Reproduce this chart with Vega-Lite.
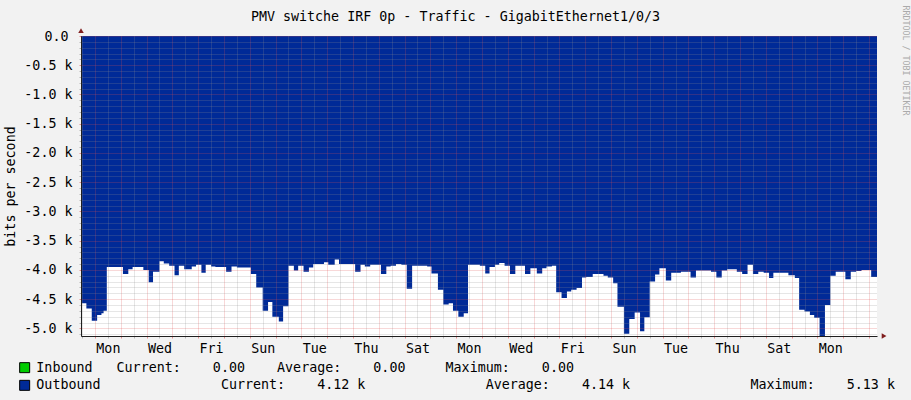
{
  "$schema": "https://vega.github.io/schema/vega-lite/v6.json",
  "width": 796,
  "height": 300,
  "autosize": {"type": "none"},
  "padding": {"left": 81, "top": 36, "right": 34, "bottom": 64},
  "background": "#f2f2f2",
  "config": {
    "view": {"stroke": null, "fill": "#ffffff"},
    "font": "DejaVu Sans Mono",
    "axis": {"labelFont": "DejaVu Sans Mono", "labelFontSize": 13.33, "labelColor": "#000000", "titleFont": "DejaVu Sans Mono", "titleFontSize": 13.33, "titleFontWeight": "normal", "titleColor": "#000000"}
  },
  "title": {"text": "PMV switche IRF 0p - Traffic - GigabitEthernet1/0/3", "font": "DejaVu Sans Mono", "fontSize": 13.33, "fontWeight": "normal", "color": "#000000", "anchor": "middle", "dx": -23.5, "dy": 46, "offset": 17, "baseline": "alphabetic"},
  "datasets": {
    "traffic": [
      {"time": "2023-12-31T11:00", "bps": -4570, "series": "Outbound"},
      {"time": "2023-12-31T16:00", "bps": -4660, "series": "Outbound"},
      {"time": "2023-12-31T21:00", "bps": -4870, "series": "Outbound"},
      {"time": "2024-01-01T02:00", "bps": -4770, "series": "Outbound"},
      {"time": "2024-01-01T06:00", "bps": -4740, "series": "Outbound"},
      {"time": "2024-01-01T08:00", "bps": -4700, "series": "Outbound"},
      {"time": "2024-01-01T11:00", "bps": -3950, "series": "Outbound"},
      {"time": "2024-01-02T02:00", "bps": -4070, "series": "Outbound"},
      {"time": "2024-01-02T07:00", "bps": -3990, "series": "Outbound"},
      {"time": "2024-01-02T11:00", "bps": -3950, "series": "Outbound"},
      {"time": "2024-01-02T21:00", "bps": -4000, "series": "Outbound"},
      {"time": "2024-01-03T02:00", "bps": -4210, "series": "Outbound"},
      {"time": "2024-01-03T06:00", "bps": -4030, "series": "Outbound"},
      {"time": "2024-01-03T12:00", "bps": -3850, "series": "Outbound"},
      {"time": "2024-01-03T16:00", "bps": -3890, "series": "Outbound"},
      {"time": "2024-01-03T21:00", "bps": -3930, "series": "Outbound"},
      {"time": "2024-01-04T02:00", "bps": -4090, "series": "Outbound"},
      {"time": "2024-01-04T06:00", "bps": -3930, "series": "Outbound"},
      {"time": "2024-01-04T11:00", "bps": -3990, "series": "Outbound"},
      {"time": "2024-01-04T18:00", "bps": -3940, "series": "Outbound"},
      {"time": "2024-01-04T22:00", "bps": -3910, "series": "Outbound"},
      {"time": "2024-01-05T03:00", "bps": -4050, "series": "Outbound"},
      {"time": "2024-01-05T07:00", "bps": -3910, "series": "Outbound"},
      {"time": "2024-01-05T12:00", "bps": -3940, "series": "Outbound"},
      {"time": "2024-01-05T16:00", "bps": -3950, "series": "Outbound"},
      {"time": "2024-01-06T02:00", "bps": -4030, "series": "Outbound"},
      {"time": "2024-01-06T07:00", "bps": -3940, "series": "Outbound"},
      {"time": "2024-01-06T12:00", "bps": -3960, "series": "Outbound"},
      {"time": "2024-01-07T01:00", "bps": -4070, "series": "Outbound"},
      {"time": "2024-01-07T06:00", "bps": -4300, "series": "Outbound"},
      {"time": "2024-01-07T12:00", "bps": -4700, "series": "Outbound"},
      {"time": "2024-01-07T17:00", "bps": -4550, "series": "Outbound"},
      {"time": "2024-01-07T21:00", "bps": -4800, "series": "Outbound"},
      {"time": "2024-01-08T03:00", "bps": -4880, "series": "Outbound"},
      {"time": "2024-01-08T07:00", "bps": -4620, "series": "Outbound"},
      {"time": "2024-01-08T12:00", "bps": -3930, "series": "Outbound"},
      {"time": "2024-01-08T17:00", "bps": -4010, "series": "Outbound"},
      {"time": "2024-01-08T21:00", "bps": -3930, "series": "Outbound"},
      {"time": "2024-01-09T02:00", "bps": -4030, "series": "Outbound"},
      {"time": "2024-01-09T07:00", "bps": -3960, "series": "Outbound"},
      {"time": "2024-01-09T11:00", "bps": -3900, "series": "Outbound"},
      {"time": "2024-01-09T21:00", "bps": -3870, "series": "Outbound"},
      {"time": "2024-01-10T01:00", "bps": -3910, "series": "Outbound"},
      {"time": "2024-01-10T07:00", "bps": -3820, "series": "Outbound"},
      {"time": "2024-01-10T11:00", "bps": -3900, "series": "Outbound"},
      {"time": "2024-01-11T02:00", "bps": -4030, "series": "Outbound"},
      {"time": "2024-01-11T07:00", "bps": -3910, "series": "Outbound"},
      {"time": "2024-01-11T11:00", "bps": -3940, "series": "Outbound"},
      {"time": "2024-01-11T16:00", "bps": -3910, "series": "Outbound"},
      {"time": "2024-01-12T02:00", "bps": -4070, "series": "Outbound"},
      {"time": "2024-01-12T07:00", "bps": -3940, "series": "Outbound"},
      {"time": "2024-01-12T11:00", "bps": -3930, "series": "Outbound"},
      {"time": "2024-01-12T16:00", "bps": -3900, "series": "Outbound"},
      {"time": "2024-01-12T21:00", "bps": -3910, "series": "Outbound"},
      {"time": "2024-01-13T02:00", "bps": -4320, "series": "Outbound"},
      {"time": "2024-01-13T07:00", "bps": -3930, "series": "Outbound"},
      {"time": "2024-01-13T21:00", "bps": -3940, "series": "Outbound"},
      {"time": "2024-01-14T01:00", "bps": -4060, "series": "Outbound"},
      {"time": "2024-01-14T07:00", "bps": -4340, "series": "Outbound"},
      {"time": "2024-01-14T12:00", "bps": -4590, "series": "Outbound"},
      {"time": "2024-01-14T17:00", "bps": -4570, "series": "Outbound"},
      {"time": "2024-01-14T21:00", "bps": -4700, "series": "Outbound"},
      {"time": "2024-01-15T02:00", "bps": -4800, "series": "Outbound"},
      {"time": "2024-01-15T07:00", "bps": -4740, "series": "Outbound"},
      {"time": "2024-01-15T11:00", "bps": -3910, "series": "Outbound"},
      {"time": "2024-01-15T22:00", "bps": -3930, "series": "Outbound"},
      {"time": "2024-01-16T03:00", "bps": -4060, "series": "Outbound"},
      {"time": "2024-01-16T07:00", "bps": -3950, "series": "Outbound"},
      {"time": "2024-01-16T12:00", "bps": -3910, "series": "Outbound"},
      {"time": "2024-01-16T16:00", "bps": -3880, "series": "Outbound"},
      {"time": "2024-01-16T21:00", "bps": -3930, "series": "Outbound"},
      {"time": "2024-01-17T02:00", "bps": -4070, "series": "Outbound"},
      {"time": "2024-01-17T07:00", "bps": -3930, "series": "Outbound"},
      {"time": "2024-01-17T16:00", "bps": -4070, "series": "Outbound"},
      {"time": "2024-01-17T21:00", "bps": -3970, "series": "Outbound"},
      {"time": "2024-01-18T03:00", "bps": -4060, "series": "Outbound"},
      {"time": "2024-01-18T08:00", "bps": -3970, "series": "Outbound"},
      {"time": "2024-01-18T12:00", "bps": -3940, "series": "Outbound"},
      {"time": "2024-01-18T17:00", "bps": -3930, "series": "Outbound"},
      {"time": "2024-01-18T21:00", "bps": -4380, "series": "Outbound"},
      {"time": "2024-01-19T02:00", "bps": -4480, "series": "Outbound"},
      {"time": "2024-01-19T07:00", "bps": -4370, "series": "Outbound"},
      {"time": "2024-01-19T11:00", "bps": -4340, "series": "Outbound"},
      {"time": "2024-01-19T16:00", "bps": -4310, "series": "Outbound"},
      {"time": "2024-01-19T21:00", "bps": -4130, "series": "Outbound"},
      {"time": "2024-01-20T01:00", "bps": -4120, "series": "Outbound"},
      {"time": "2024-01-20T07:00", "bps": -4070, "series": "Outbound"},
      {"time": "2024-01-20T17:00", "bps": -4100, "series": "Outbound"},
      {"time": "2024-01-20T21:00", "bps": -4130, "series": "Outbound"},
      {"time": "2024-01-21T02:00", "bps": -4230, "series": "Outbound"},
      {"time": "2024-01-21T06:00", "bps": -4630, "series": "Outbound"},
      {"time": "2024-01-21T12:00", "bps": -5090, "series": "Outbound"},
      {"time": "2024-01-21T17:00", "bps": -4840, "series": "Outbound"},
      {"time": "2024-01-21T22:00", "bps": -4730, "series": "Outbound"},
      {"time": "2024-01-22T03:00", "bps": -5050, "series": "Outbound"},
      {"time": "2024-01-22T07:00", "bps": -4810, "series": "Outbound"},
      {"time": "2024-01-22T12:00", "bps": -4200, "series": "Outbound"},
      {"time": "2024-01-22T17:00", "bps": -4080, "series": "Outbound"},
      {"time": "2024-01-22T21:00", "bps": -3970, "series": "Outbound"},
      {"time": "2024-01-23T03:00", "bps": -4180, "series": "Outbound"},
      {"time": "2024-01-23T08:00", "bps": -4050, "series": "Outbound"},
      {"time": "2024-01-23T17:00", "bps": -4030, "series": "Outbound"},
      {"time": "2024-01-24T02:00", "bps": -4130, "series": "Outbound"},
      {"time": "2024-01-24T07:00", "bps": -4010, "series": "Outbound"},
      {"time": "2024-01-24T21:00", "bps": -4030, "series": "Outbound"},
      {"time": "2024-01-25T02:00", "bps": -4130, "series": "Outbound"},
      {"time": "2024-01-25T07:00", "bps": -4010, "series": "Outbound"},
      {"time": "2024-01-25T12:00", "bps": -3990, "series": "Outbound"},
      {"time": "2024-01-25T21:00", "bps": -4030, "series": "Outbound"},
      {"time": "2024-01-26T02:00", "bps": -4070, "series": "Outbound"},
      {"time": "2024-01-26T07:00", "bps": -3910, "series": "Outbound"},
      {"time": "2024-01-26T12:00", "bps": -4070, "series": "Outbound"},
      {"time": "2024-01-26T17:00", "bps": -4030, "series": "Outbound"},
      {"time": "2024-01-26T22:00", "bps": -4050, "series": "Outbound"},
      {"time": "2024-01-27T03:00", "bps": -4140, "series": "Outbound"},
      {"time": "2024-01-27T07:00", "bps": -4050, "series": "Outbound"},
      {"time": "2024-01-27T21:00", "bps": -4090, "series": "Outbound"},
      {"time": "2024-01-28T03:00", "bps": -4140, "series": "Outbound"},
      {"time": "2024-01-28T07:00", "bps": -4680, "series": "Outbound"},
      {"time": "2024-01-28T12:00", "bps": -4710, "series": "Outbound"},
      {"time": "2024-01-28T17:00", "bps": -4770, "series": "Outbound"},
      {"time": "2024-01-28T21:00", "bps": -4820, "series": "Outbound"},
      {"time": "2024-01-29T02:00", "bps": -5130, "series": "Outbound"},
      {"time": "2024-01-29T07:00", "bps": -4600, "series": "Outbound"},
      {"time": "2024-01-29T12:00", "bps": -4100, "series": "Outbound"},
      {"time": "2024-01-29T17:00", "bps": -4030, "series": "Outbound"},
      {"time": "2024-01-30T02:00", "bps": -4160, "series": "Outbound"},
      {"time": "2024-01-30T07:00", "bps": -4030, "series": "Outbound"},
      {"time": "2024-01-30T12:00", "bps": -4020, "series": "Outbound"},
      {"time": "2024-01-30T17:00", "bps": -4000, "series": "Outbound"},
      {"time": "2024-01-31T02:00", "bps": -4120, "series": "Outbound"},
      {"time": "2024-01-31T08:00", "bps": -4120, "series": "Outbound"}
    ],
    "arrows": [
      {"time": "2023-12-31T11:00", "bps": 90, "dir": "up"},
      {"time": "2024-01-31T14:00", "bps": -5130, "dir": "right"}
    ]
  },
  "layer": [
    {
      "data": {"name": "traffic"},
      "mark": {"type": "area", "interpolate": "step-after", "clip": true},
      "encoding": {
        "x": {
          "field": "time", "type": "temporal",
          "scale": {"domain": [{"year": 2023, "month": 12, "date": 31, "hours": 11}, {"year": 2024, "month": 1, "date": 31, "hours": 7, "minutes": 25}]},
          "axis": {
            "orient": "bottom", "title": null, "labels": false, "domain": false, "ticks": true, "tickSize": 2,
            "tickColor": "#8f8f8f", "tickOpacity": 0.6,
            "grid": true, "gridColor": "#8f8f8f", "gridOpacity": 0.45, "gridDash": [1, 1], "zindex": 1,
            "values": [
              {"year": 2023, "month": 12, "date": 31, "hours": 12},
              {"year": 2024, "month": 1, "date": 1, "hours": 12}, {"year": 2024, "month": 1, "date": 2, "hours": 12},
              {"year": 2024, "month": 1, "date": 3, "hours": 12}, {"year": 2024, "month": 1, "date": 4, "hours": 12},
              {"year": 2024, "month": 1, "date": 5, "hours": 12}, {"year": 2024, "month": 1, "date": 6, "hours": 12},
              {"year": 2024, "month": 1, "date": 7, "hours": 12}, {"year": 2024, "month": 1, "date": 8, "hours": 12},
              {"year": 2024, "month": 1, "date": 9, "hours": 12}, {"year": 2024, "month": 1, "date": 10, "hours": 12},
              {"year": 2024, "month": 1, "date": 11, "hours": 12}, {"year": 2024, "month": 1, "date": 12, "hours": 12},
              {"year": 2024, "month": 1, "date": 13, "hours": 12}, {"year": 2024, "month": 1, "date": 14, "hours": 12},
              {"year": 2024, "month": 1, "date": 15, "hours": 12}, {"year": 2024, "month": 1, "date": 16, "hours": 12},
              {"year": 2024, "month": 1, "date": 17, "hours": 12}, {"year": 2024, "month": 1, "date": 18, "hours": 12},
              {"year": 2024, "month": 1, "date": 19, "hours": 12}, {"year": 2024, "month": 1, "date": 20, "hours": 12},
              {"year": 2024, "month": 1, "date": 21, "hours": 12}, {"year": 2024, "month": 1, "date": 22, "hours": 12},
              {"year": 2024, "month": 1, "date": 23, "hours": 12}, {"year": 2024, "month": 1, "date": 24, "hours": 12},
              {"year": 2024, "month": 1, "date": 25, "hours": 12}, {"year": 2024, "month": 1, "date": 26, "hours": 12},
              {"year": 2024, "month": 1, "date": 27, "hours": 12}, {"year": 2024, "month": 1, "date": 28, "hours": 12},
              {"year": 2024, "month": 1, "date": 29, "hours": 12}, {"year": 2024, "month": 1, "date": 30, "hours": 12}
            ]
          }
        },
        "y": {
          "field": "bps", "type": "quantitative", "stack": null,
          "scale": {"domain": [-5130, 0], "nice": false, "zero": false},
          "axis": {
            "orient": "left", "title": null, "labels": false, "domain": false, "ticks": true, "tickSize": 2,
            "tickColor": "#8f8f8f", "tickOpacity": 0.6,
            "grid": true, "gridColor": "#8f8f8f", "gridOpacity": 0.45, "gridDash": [1, 1], "zindex": 1,
            "values": [-5100, -4900, -4800, -4700, -4600, -4400, -4300, -4200, -4100, -3900, -3800, -3700, -3600, -3400, -3300, -3200, -3100, -2900, -2800, -2700, -2600, -2400, -2300, -2200, -2100, -1900, -1800, -1700, -1600, -1400, -1300, -1200, -1100, -900, -800, -700, -600, -400, -300, -200, -100]
          }
        },
        "color": {
          "field": "series", "type": "nominal",
          "scale": {"domain": ["Inbound", "Outbound"], "range": ["#00cc00", "#002a97"]},
          "legend": {
            "orient": "none", "legendX": -63, "legendY": 325, "title": null, "direction": "vertical", "padding": 0,
            "symbolType": "square", "symbolSize": 100, "symbolStrokeColor": "#000000", "symbolStrokeWidth": 1, "symbolOpacity": 1,
            "labelFont": "DejaVu Sans Mono", "labelFontSize": 13.33, "labelColor": "#000000", "labelOffset": 5, "labelLimit": 0,
            "rowPadding": 2.67,
            "labelExpr": "datum.label == 'Inbound' ? 'Inbound\u00a0\u00a0\u00a0Current:\u00a0\u00a0\u00a0\u00a00.00\u00a0\u00a0\u00a0\u00a0Average:\u00a0\u00a0\u00a0\u00a00.00\u00a0\u00a0\u00a0\u00a0\u00a0Maximum:\u00a0\u00a0\u00a0\u00a00.00' : 'Outbound\u00a0\u00a0\u00a0\u00a0\u00a0\u00a0\u00a0\u00a0\u00a0\u00a0\u00a0\u00a0\u00a0\u00a0\u00a0Current:\u00a0\u00a0\u00a0\u00a04.12\u00a0k\u00a0\u00a0\u00a0\u00a0\u00a0\u00a0\u00a0\u00a0\u00a0\u00a0\u00a0\u00a0\u00a0\u00a0\u00a0Average:\u00a0\u00a0\u00a0\u00a04.14\u00a0k\u00a0\u00a0\u00a0\u00a0\u00a0\u00a0\u00a0\u00a0\u00a0\u00a0\u00a0\u00a0\u00a0\u00a0\u00a0Maximum:\u00a0\u00a0\u00a0\u00a05.13\u00a0k'"
          }
        }
      }
    },
    {
      "data": {"name": "arrows"},
      "mark": {"type": "point", "filled": true, "opacity": 1, "size": 30, "color": "#801f1f", "clip": false},
      "encoding": {
        "x": {
          "field": "time", "type": "temporal",
          "axis": {
            "orient": "bottom", "title": null, "domain": true, "domainColor": "#1f1f1f", "domainWidth": 1,
            "ticks": true, "tickSize": 2, "tickColor": "#de4f4f", "tickOpacity": 0.6,
            "grid": true, "gridColor": "#de4f4f", "gridOpacity": 0.45, "gridDash": [1, 1], "zindex": 1,
            "labelPadding": 3, "labelOffset": 12.9, "labelOverlap": false, "labelFlush": false, "labelBound": false,
            "labelExpr": "(date(datum.value) % 2 == 1 && date(datum.value) < 31) ? timeFormat(datum.value, '%a') : ''",
            "values": [
              {"year": 2024, "month": 1, "date": 1}, {"year": 2024, "month": 1, "date": 2}, {"year": 2024, "month": 1, "date": 3},
              {"year": 2024, "month": 1, "date": 4}, {"year": 2024, "month": 1, "date": 5}, {"year": 2024, "month": 1, "date": 6},
              {"year": 2024, "month": 1, "date": 7}, {"year": 2024, "month": 1, "date": 8}, {"year": 2024, "month": 1, "date": 9},
              {"year": 2024, "month": 1, "date": 10}, {"year": 2024, "month": 1, "date": 11}, {"year": 2024, "month": 1, "date": 12},
              {"year": 2024, "month": 1, "date": 13}, {"year": 2024, "month": 1, "date": 14}, {"year": 2024, "month": 1, "date": 15},
              {"year": 2024, "month": 1, "date": 16}, {"year": 2024, "month": 1, "date": 17}, {"year": 2024, "month": 1, "date": 18},
              {"year": 2024, "month": 1, "date": 19}, {"year": 2024, "month": 1, "date": 20}, {"year": 2024, "month": 1, "date": 21},
              {"year": 2024, "month": 1, "date": 22}, {"year": 2024, "month": 1, "date": 23}, {"year": 2024, "month": 1, "date": 24},
              {"year": 2024, "month": 1, "date": 25}, {"year": 2024, "month": 1, "date": 26}, {"year": 2024, "month": 1, "date": 27},
              {"year": 2024, "month": 1, "date": 28}, {"year": 2024, "month": 1, "date": 29}, {"year": 2024, "month": 1, "date": 30},
              {"year": 2024, "month": 1, "date": 31}
            ]
          }
        },
        "y": {
          "field": "bps", "type": "quantitative",
          "axis": {
            "orient": "left", "title": "bits per second", "titleX": -70.5, "titleY": 150, "titleAngle": 270, "titleAlign": "center", "titleBaseline": "middle",
            "domain": true, "domainColor": "#1f1f1f", "domainWidth": 1,
            "ticks": true, "tickSize": 2, "tickColor": "#de4f4f", "tickOpacity": 0.6,
            "grid": true, "gridColor": "#de4f4f", "gridOpacity": 0.45, "gridDash": [1, 1], "zindex": 1,
            "labelPadding": {"condition": {"test": "datum.value == 0", "value": 11}, "value": 7},
            "labelExpr": "datum.value == 0 ? '0.0' : '-' + format(-datum.value / 1000, '.1f') + ' k'",
            "values": [-5000, -4500, -4000, -3500, -3000, -2500, -2000, -1500, -1000, -500, 0]
          }
        },
        "shape": {"field": "dir", "type": "nominal", "scale": {"domain": ["up", "right"], "range": ["triangle-up", "triangle-right"]}, "legend": null}
      }
    },
    {
      "data": {"name": "arrows"},
      "mark": {"type": "point", "opacity": 0},
      "encoding": {
        "x": {"field": "time", "type": "temporal", "axis": null},
        "y": {
          "field": "bps", "type": "quantitative",
          "axis": {
            "orient": "right", "title": "RRDTOOL / TOBI OETIKER", "labels": false, "ticks": false, "domain": false, "grid": false,
            "titleAngle": 90, "titleFont": "DejaVu Sans Mono", "titleFontSize": 8.3, "titleFontWeight": "normal", "titleColor": "#aaaaaa",
            "titleX": 27, "titleY": -31, "titleAlign": "left", "titleBaseline": "middle"
          }
        }
      }
    }
  ],
  "resolve": {"axis": {"x": "independent", "y": "independent"}}
}
